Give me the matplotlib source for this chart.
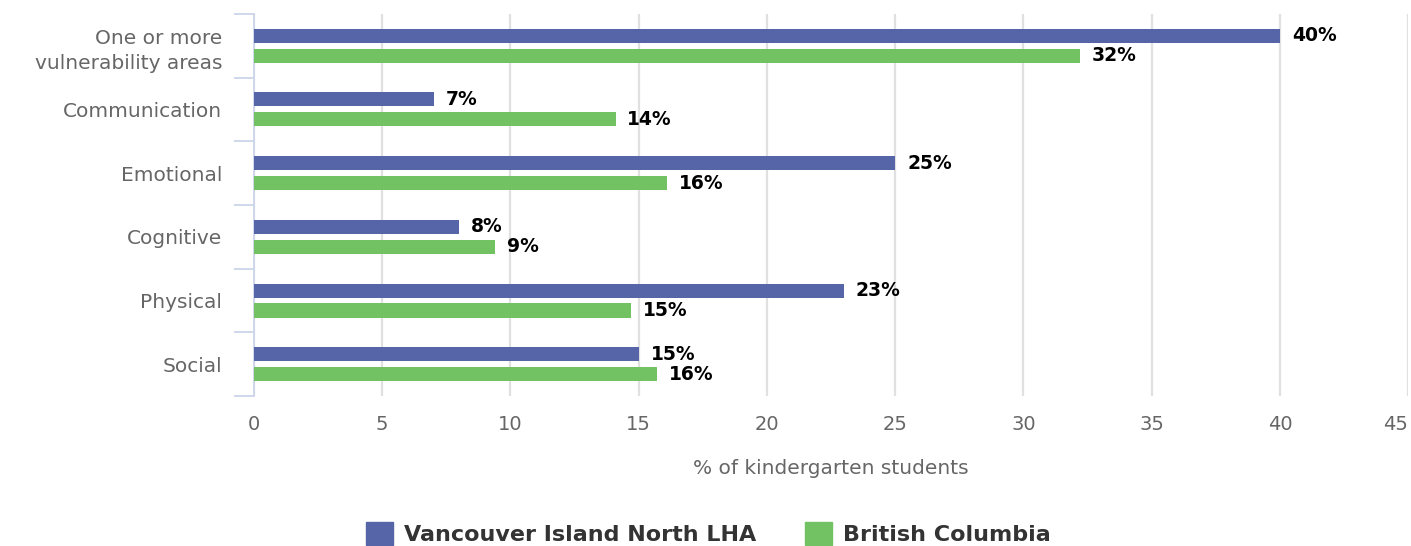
import matplotlib
matplotlib.use('Agg')
import matplotlib.pyplot as plt
import numpy as np
from matplotlib.patches import Patch

categories = ["One or more\nvulnerability areas", "Communication", "Emotional",
              "Cognitive", "Physical", "Social"]
vancouver = [40.0, 7.0, 25.0, 8.0, 23.0, 15.0]
bc = [32.2, 14.1, 16.1, 9.4, 14.7, 15.7]
vancouver_labels = ["40%", "7%", "25%", "8%", "23%", "15%"]
bc_labels = ["32%", "14%", "16%", "9%", "15%", "16%"]
series_names = ["Vancouver Island North LHA", "British Columbia"]

blue = "#5565a8"
green = "#72c162"
axis_col = "#ccd6eb"

fig = plt.figure(figsize=(14.11, 5.46), dpi=100)
ax = fig.add_axes([0.18, 0.2747, 0.818, 0.6997])

y = np.arange(len(categories))
h = 0.22
off = 0.157
ax.barh(y - off, vancouver, height=h, color=blue, zorder=3)
ax.barh(y + off, bc, height=h, color=green, zorder=3)

for yi, v, lab in zip(y, vancouver, vancouver_labels):
    ax.annotate(lab, (v, yi - off), xytext=(8.5, 0), textcoords="offset points",
                va="center", ha="left", fontsize=13.5, fontweight="bold", color="black")
for yi, v, lab in zip(y, bc, bc_labels):
    ax.annotate(lab, (v, yi + off), xytext=(8.5, 0), textcoords="offset points",
                va="center", ha="left", fontsize=13.5, fontweight="bold", color="black")

ax.set_xlim(0, 45)
ax.set_ylim(len(categories) - 0.5, -0.5)
ax.set_xticks(np.arange(0, 46, 5))
ax.set_yticks(y)
ax.set_yticklabels(categories, fontsize=14.5, color="#666666", ha="right", linespacing=1.4)
ax.set_yticks(np.arange(-0.5, len(categories)), minor=True)
ax.tick_params(axis="y", which="major", length=0, pad=23)
ax.tick_params(axis="y", which="minor", length=14.4, width=1.3, color=axis_col)
ax.tick_params(axis="x", length=0, pad=14, labelsize=14, labelcolor="#666666")
# keep the last tick label inside the figure
ax.get_xticklabels()[-1].set_horizontalalignment("right")

ax.grid(axis="x", color="#e0e0e0", linewidth=1.6, zorder=0)
for s in ["top", "right", "bottom"]:
    ax.spines[s].set_visible(False)
ax.spines["left"].set_color(axis_col)
ax.spines["left"].set_linewidth(1.3)

ax.set_xlabel("% of kindergarten students", fontsize=14.5, color="#666666", labelpad=18)

handles = [Patch(color=blue), Patch(color=green)]
leg = fig.legend(handles, series_names, loc="lower center", bbox_to_anchor=(0.502, -0.035),
                 ncol=2, frameon=False, handlelength=1.2, handleheight=1.2,
                 handletextpad=0.5, columnspacing=2.2,
                 prop={"size": 16, "weight": "bold"})
for t in leg.get_texts():
    t.set_color("#333333")

plt.savefig("out.png", dpi=100)
